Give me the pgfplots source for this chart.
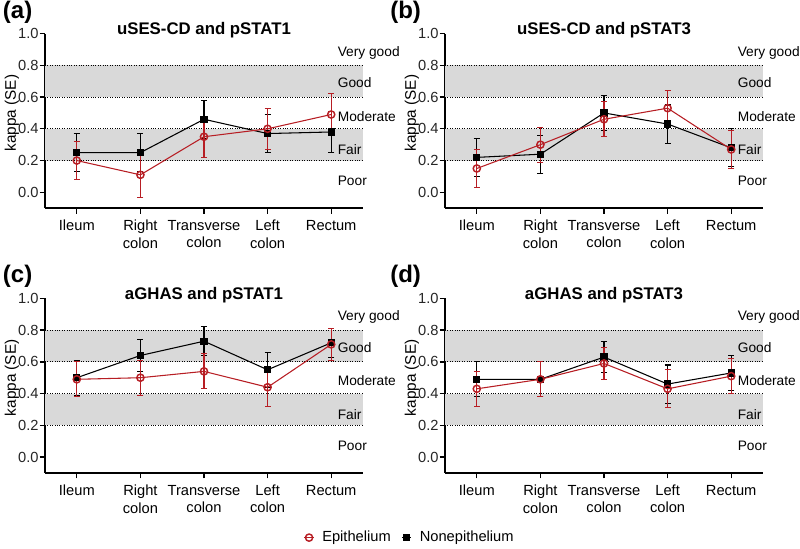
\documentclass[border=0pt]{standalone}
\usepackage{fontspec}
\setmainfont{Liberation Sans}
\usepackage{pgfplots}
\usepackage{pgfplotstable}
\pgfplotsset{compat=1.18}
\definecolor{epi}{RGB}{183,30,36}
\definecolor{band}{RGB}{217,217,217}

\pgfplotstableread{
x ye ee yn en
0 0.20 0.12 0.25 0.12
1 0.11 0.14 0.25 0.12
2 0.35 0.13 0.46 0.12
3 0.40 0.13 0.37 0.12
4 0.49 0.13 0.38 0.13
}\dataA
\pgfplotstableread{
x ye ee yn en
0 0.15 0.12 0.22 0.12
1 0.30 0.11 0.24 0.12
2 0.46 0.11 0.50 0.11
3 0.53 0.11 0.43 0.12
4 0.27 0.12 0.28 0.12
}\dataB
\pgfplotstableread{
x ye ee yn en
0 0.49 0.11 0.50 0.11
1 0.50 0.11 0.64 0.10
2 0.54 0.11 0.73 0.09
3 0.44 0.12 0.55 0.11
4 0.71 0.10 0.72 0.09
}\dataC
\pgfplotstableread{
x ye ee yn en
0 0.43 0.11 0.49 0.11
1 0.49 0.11 0.49 0.11
2 0.59 0.10 0.63 0.10
3 0.43 0.12 0.46 0.12
4 0.51 0.11 0.53 0.11
}\dataD

\pgfplotsset{
  kappa/.style={
    scale only axis, width=238.5pt, height=131pt, anchor=south west,
    xmin=-0.5, xmax=4.5, ymin=-0.1, ymax=1.0,
    axis x line*=bottom, axis y line*=left,
    axis line style={line width=1.1pt, black},
    tick align=outside, major tick length=4pt,
    every tick/.style={black, line width=1pt},
    xtick={0,1,2,3,4},
    xticklabels={Ileum, Right\\colon, Transverse\\colon, Left\\colon, Rectum},
    xticklabel style={align=center, font=\fontsize{11}{13}\selectfont, yshift=-1.5pt},
    ytick={0,0.2,0.4,0.6,0.8,1.0},
    yticklabel style={/pgf/number format/fixed, /pgf/number format/precision=1,
      /pgf/number format/fixed zerofill, /pgf/number format/assume math mode=true,
      font=\fontsize{11}{13}\selectfont, text=black!85, inner xsep=0.6pt},
    ylabel={kappa (SE)},
    ylabel style={font=\fontsize{11.5}{13}\selectfont, at={(axis description cs:-0.104,0.545)}, anchor=center},
    title style={font=\bfseries\fontsize{12.6}{15}\selectfont, at={(axis description cs:0.5,1)}, anchor=base, yshift=-7pt},
    clip=false,
  },
  epiplot/.style={forget plot, epi, line width=0.8pt, mark=o, mark size=2.7pt,
    mark options={line width=1.1pt, solid},
    error bars/.cd, y dir=both, y explicit,
    error bar style={epi, line width=0.8pt},
    error mark options={rotate=90, mark size=2.3pt, epi, line width=0.8pt}},
  nonplot/.style={forget plot, black, line width=0.8pt, mark=square*, mark size=2.3pt,
    error bars/.cd, y dir=both, y explicit,
    error bar style={black, line width=0.8pt},
    error mark options={rotate=90, mark size=2.3pt, black, line width=0.8pt}},
}

\newcommand{\bands}{%
  \addplot[fill=band, draw=none, forget plot] coordinates {(-0.5,0.2) (4.5,0.2) (4.5,0.4) (-0.5,0.4)} -- cycle;
  \addplot[fill=band, draw=none, forget plot] coordinates {(-0.5,0.6) (4.5,0.6) (4.5,0.8) (-0.5,0.8)} -- cycle;
  \addplot[densely dotted, line width=0.8pt, forget plot] coordinates {(-0.5,0.2) (4.5,0.2)};
  \addplot[densely dotted, line width=0.8pt, forget plot] coordinates {(-0.5,0.4) (4.5,0.4)};
  \addplot[densely dotted, line width=0.8pt, forget plot] coordinates {(-0.5,0.6) (4.5,0.6)};
  \addplot[densely dotted, line width=0.8pt, forget plot] coordinates {(-0.5,0.8) (4.5,0.8)};
  \node[anchor=west, font=\fontsize{10.3}{12}\selectfont, inner sep=0pt] at (axis cs:4.1,0.88) {Very good};
  \node[anchor=west, font=\fontsize{10.3}{12}\selectfont, inner sep=0pt] at (axis cs:4.1,0.69) {Good};
  \node[anchor=west, font=\fontsize{10.3}{12}\selectfont, inner sep=0pt] at (axis cs:4.1,0.48) {Moderate};
  \node[anchor=west, font=\fontsize{10.3}{12}\selectfont, inner sep=0pt] at (axis cs:4.1,0.27) {Fair};
  \node[anchor=west, font=\fontsize{10.3}{12}\selectfont, inner sep=0pt] at (axis cs:4.1,0.07) {Poor};
}
\newcommand{\series}[1]{%
  \addplot[nonplot] table[x=x, y=yn, y error=en] {#1};
  \addplot[epiplot] table[x=x, y=ye, y error=ee] {#1};
}

\begin{document}
\begin{tikzpicture}
\path[use as bounding box] (0,0) rectangle (600pt,411.75pt);

\begin{axis}[kappa, at={(33.75pt,255.6pt)}, title={uSES-CD and pSTAT1}]
\bands
\series{\dataA}
\end{axis}

\begin{axis}[kappa, at={(333.75pt,255.6pt)}, title={uSES-CD and pSTAT3}]
\bands
\series{\dataB}
\end{axis}

\begin{axis}[kappa, at={(33.75pt,57pt)}, title={aGHAS and pSTAT1},
  legend style={at={(1.148,-0.37)}, anchor=center, draw=none, fill=none,
    font=\fontsize{11}{13}\selectfont, legend columns=2,
    /tikz/every odd column/.append style={column sep=4pt},
    /tikz/every even column/.append style={column sep=6pt}},
  legend cell align=left,
  legend image code/.code={\draw[mark repeat=2, mark phase=2] plot coordinates {(0pt,0pt) (3.5pt,0pt) (7pt,0pt)};}]
\addlegendimage{epi, line width=0.8pt, mark=o, mark size=2.7pt, mark options={line width=1.1pt}}
\addlegendentry{Epithelium}
\addlegendimage{black, line width=0.8pt, mark=square*, mark size=2.3pt}
\addlegendentry{Nonepithelium}
\bands
\series{\dataC}
\end{axis}

\begin{axis}[kappa, at={(333.75pt,57pt)}, title={aGHAS and pSTAT3}]
\bands
\series{\dataD}
\end{axis}

\node[anchor=north west, inner sep=0pt, font=\bfseries\fontsize{18}{21}\selectfont] at (2pt,411pt) {(a)};
\node[anchor=north west, inner sep=0pt, font=\bfseries\fontsize{18}{21}\selectfont] at (292.5pt,411pt) {(b)};
\node[anchor=north west, inner sep=0pt, font=\bfseries\fontsize{18}{21}\selectfont] at (2pt,213pt) {(c)};
\node[anchor=north west, inner sep=0pt, font=\bfseries\fontsize{18}{21}\selectfont] at (292.5pt,213pt) {(d)};
\end{tikzpicture}
\end{document}
